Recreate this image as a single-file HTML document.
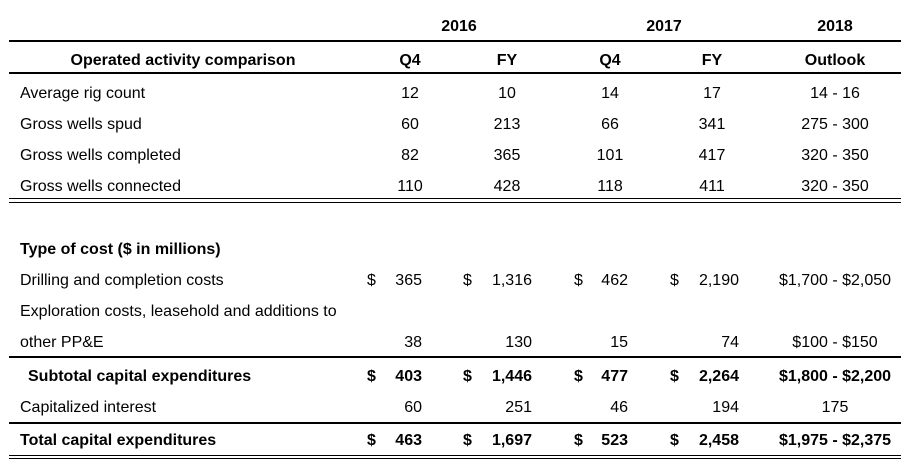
<!DOCTYPE html>
<html><head><meta charset="utf-8"><style>
body{margin:0;width:909px;height:476px;background:#fff;position:relative;font-family:"Liberation Sans",Arial,sans-serif;font-size:16px;color:#000;overflow:hidden}
.t{position:absolute;white-space:nowrap;line-height:18px}
.c{transform:translateX(-50%)}
.r{transform:translateX(-100%)}
.b{font-weight:bold}
.ln{position:absolute;left:9px;width:892px;background:#000}
</style></head><body>
<div id="root"></div>
<script>
const root=document.getElementById('root');
function t(x,y,s,cls,name){const d=document.createElement('div');d.className='t '+cls;d.style.left=x+'px';d.style.top=(y-7)+'px';d.textContent=s;


root.appendChild(d);}
function ln(y,h,name){const d=document.createElement('div');d.className='ln';d.style.top=y+'px';d.style.height=h+'px';


root.appendChild(d);}
const yrs=[["2016",459],["2017",664],["2018",835]];
yrs.forEach(a=>t(a[1],25,a[0],'c b','year-header'));
ln(40,2,'top-rule');
t(183,59,'Operated activity comparison','c b','section-header');
const cols=[410,507,610,712,835];
["Q4","FY","Q4","FY","Outlook"].forEach((s,i)=>t(cols[i],59,s,'c b','column-header'));
ln(72,2,'header-rule');
const act=[["Average rig count","12","10","14","17","14 - 16"],["Gross wells spud","60","213","66","341","275 - 300"],["Gross wells completed","82","365","101","417","320 - 350"],["Gross wells connected","110","428","118","411","320 - 350"]];
act.forEach((r,k)=>{const y=92+k*31;t(20,y,r[0],'','row-label');for(let i=0;i<5;i++)t(cols[i],y,r[i+1],'c','cell-value');});
ln(198,1,'double-rule');ln(202,1,'double-rule');
t(20,248,'Type of cost ($ in millions)','b','section-header');
const dol=[367,463,574,670], rt=[422,532,628,739], oc=835;
function money(y,label,vals,out,dollar,bold,lx){const b=bold?' b':'';if(label)t(lx||20,y,label,b.trim(),'row-label');
vals.forEach((v,i)=>{if(dollar)t(dol[i],y,'$',b.trim(),'dollar-sign');t(rt[i],y,v,'r'+b,'cell-value');});t(oc,y,out,'c'+b,'outlook-value');}
money(279,'Drilling and completion costs',["365","1,316","462","2,190"],"$1,700 - $2,050",true,false);
t(20,310,'Exploration costs, leasehold and additions to','','row-label');
money(341,'other PP&E',["38","130","15","74"],"$100 - $150",false,false);
ln(356,2,'subtotal-rule');
money(375,'Subtotal capital expenditures',["403","1,446","477","2,264"],"$1,800 - $2,200",true,true,28);
money(406,'Capitalized interest',["60","251","46","194"],"175",false,false);
ln(422,2,'total-rule');
money(439,'Total capital expenditures',["463","1,697","523","2,458"],"$1,975 - $2,375",true,true);
ln(455,1,'bottom-double-rule');ln(458,1,'bottom-double-rule');
</script>
</body></html>
